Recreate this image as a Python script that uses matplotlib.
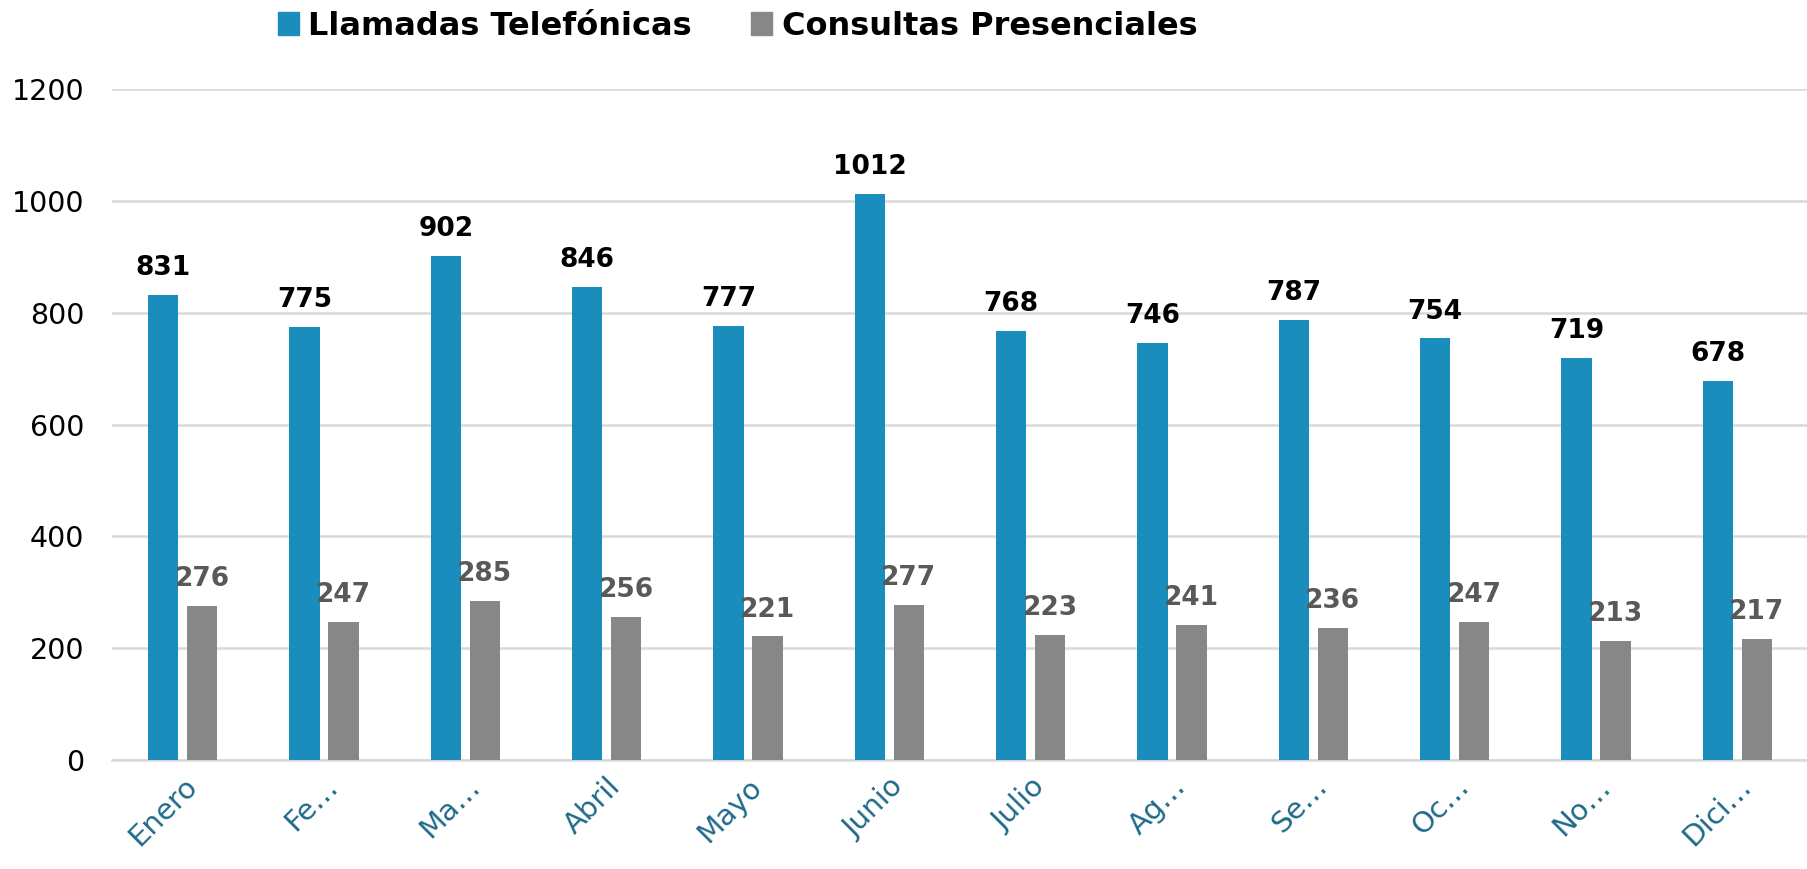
import numpy as np
import matplotlib.pyplot as plt
from matplotlib.patches import Patch

# 数据
meses = ["Enero", "Fe…", "Ma…", "Abril", "Mayo", "Junio",
         "Julio", "Ag…", "Se…", "Oc…", "No…", "Dici…"]
llamadas = [831, 775, 902, 846, 777, 1012, 768, 746, 787, 754, 719, 678]
consultas = [276, 247, 285, 256, 221, 277, 223, 241, 236, 247, 213, 217]

COLOR_AZUL = "#1A8DBD"
COLOR_GRIS = "#878787"

plt.rcParams["font.family"] = ["DejaVu Sans"]

fig = plt.figure(figsize=(18.08, 8.69), dpi=100)
ax = fig.add_axes([0.062, 0.1254, 0.938, 0.7722])

x = np.arange(len(meses))
w = 0.215
b1 = ax.bar(x - 0.138, llamadas, w, color=COLOR_AZUL, zorder=3)
b2 = ax.bar(x + 0.138, consultas, w, color=COLOR_GRIS, zorder=3)

# 数据标签
for rect, v in zip(b1, llamadas):
    ax.annotate(str(v), (rect.get_x() + rect.get_width() / 2, v),
                xytext=(0, 10), textcoords="offset points",
                ha="center", va="bottom", fontsize=19, fontweight="bold",
                color="black")
for rect, v in zip(b2, consultas):
    ax.annotate(str(v), (rect.get_x() + rect.get_width() / 2, v),
                xytext=(0, 10), textcoords="offset points",
                ha="center", va="bottom", fontsize=19, fontweight="bold",
                color="#595959")

ax.set_xlim(-0.5, len(meses) - 0.5)
ax.set_ylim(0, 1200)
ax.set_yticks(range(0, 1201, 200))
ax.yaxis.grid(True, color="#D9D9D9", lw=1.8, zorder=0)
ax.tick_params(axis="y", length=0, pad=20, labelsize=20.5, labelcolor="black")
ax.tick_params(axis="x", length=0, pad=9)
ax.set_xticks(x)
ax.set_xticklabels(meses, rotation=45, ha="right", va="top",
                   rotation_mode="anchor", fontsize=21, color="#1F6A8A")

for s in ["top", "right", "left"]:
    ax.spines[s].set_visible(False)
ax.spines["bottom"].set_color("#D9D9D9")
ax.spines["bottom"].set_linewidth(1.8)

handles = [Patch(color=COLOR_AZUL), Patch(color=COLOR_GRIS)]
fig.legend(handles, ["Llamadas Telefónicas", "Consultas Presenciales"],
           loc="center", bbox_to_anchor=(0.408, 0.970), ncol=2,
           frameon=False, prop={"size": 23, "weight": "bold"},
           handlelength=0.65, handleheight=0.75, handletextpad=0.3,
           columnspacing=1.85)

fig.savefig("out.png", dpi=100)
